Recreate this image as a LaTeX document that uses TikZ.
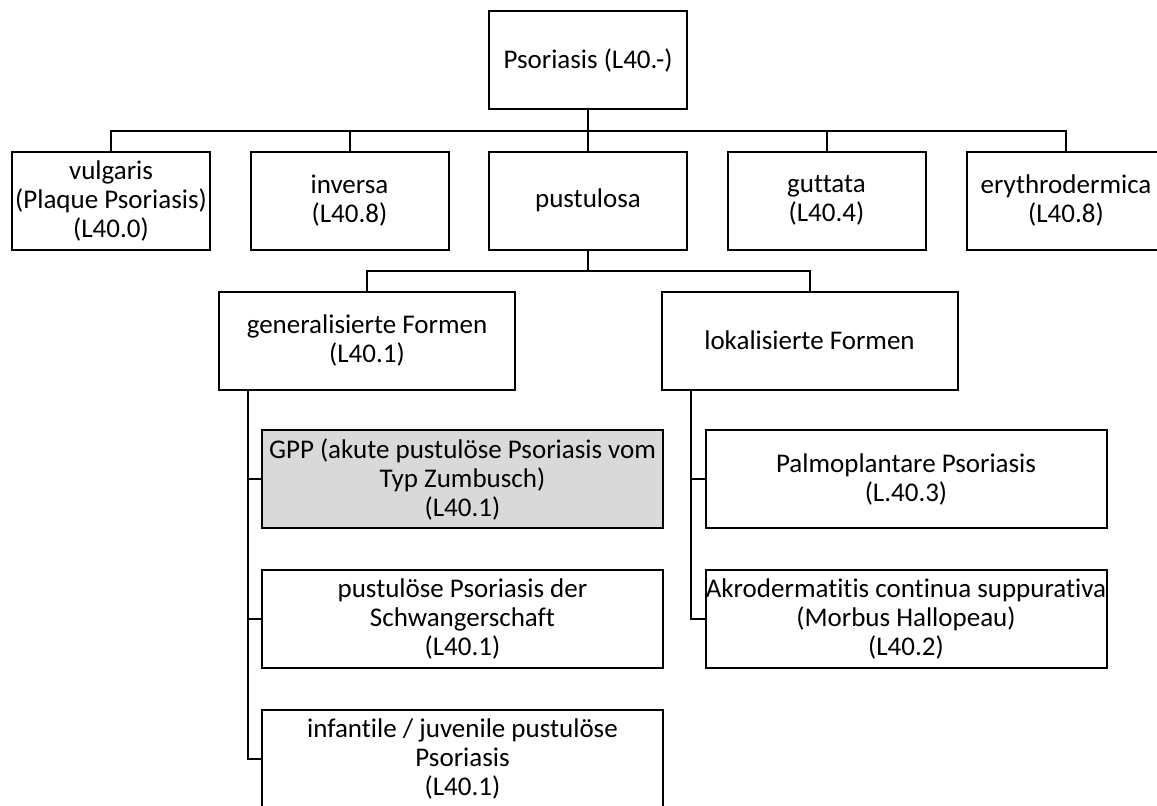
\documentclass[tikz,border=0pt]{standalone}
\usepackage{fontspec}
\setmainfont{Carlito}[Ligatures={NoCommon}]
\usetikzlibrary{calc}

\begin{document}
\begin{tikzpicture}[
		x=1pt, y=-1pt,
		line width=2pt,
		box/.style={rectangle,draw,line width=2pt,align=center,inner sep=0pt,
			minimum height=98,font=\fontsize{27}{29}\selectfont},
		small/.style={box,minimum width=198},
		mid/.style={box,minimum width=296},
		wide/.style={box,minimum width=401},
		grey/.style={fill=black!15}]

		\useasboundingbox (0,0) rectangle (1157,806);

		\node[small] (psor)  at (588,60)     {Psoriasis (L40.-)};
		\node[small] (vulg)  at (111,200.5)  {vulgaris\\(Plaque Psoriasis)\\(L40.0)};
		\node[small] (inv)   at (349.5,200.5) {inversa\\(L40.8)};
		\node[small] (pust)  at (588,200.5)  {pustulosa};
		\node[small] (gutt)  at (826.5,200.5) {guttata\\(L40.4)};
		\node[small] (eryth) at (1066,200.5) {erythrodermica\\(L40.8)};

		\node[mid] (gen) at (367,340.5)   {generalisierte Formen\\(L40.1)};
		\node[mid] (lok) at (809.5,340.5) {lokalisierte Formen};

		\node[wide,grey] (gpp) at (462.5,479) {GPP (akute pustulöse Psoriasis vom\\Typ Zumbusch)\\(L40.1)};
		\node[wide] (schw) at (462.5,618.5) {pustulöse Psoriasis der\\Schwangerschaft\\(L40.1)};
		\node[wide] (inf)  at (462.5,758.5) {infantile / juvenile pustulöse\\Psoriasis\\(L40.1)};
		\node[wide] (palm) at (906,479)     {Palmoplantare Psoriasis\\(L.40.3)};
		\node[wide] (akro) at (906,618.5)   {Akrodermatitis continua suppurativa\\(Morbus Hallopeau)\\(L40.2)};

		% buses
		\coordinate (bus1) at (588,131);
		\coordinate (bus2) at (588,271);
		\coordinate (gbus) at ($(gen.south west)+(30,0)$);
		\coordinate (lbus) at ($(lok.south west)+(30,0)$);

		\draw (psor) -- (pust);
		\draw (vulg.north) |- (bus1) -| (eryth.north);
		\draw (inv.north) -- (inv.north |- bus1);
		\draw (gutt.north) -- (gutt.north |- bus1);

		\draw (pust.south) -- (bus2);
		\draw (gen.north) |- (bus2) -| (lok.north);

		\draw (gbus) |- (inf.west);
		\foreach \n in {gpp,schw}
			\draw (\n.west) -- (\n.west -| gbus);
		\draw (lbus) |- (akro.west);
		\draw (palm.west) -- (palm.west -| lbus);

\end{tikzpicture}
\end{document}
